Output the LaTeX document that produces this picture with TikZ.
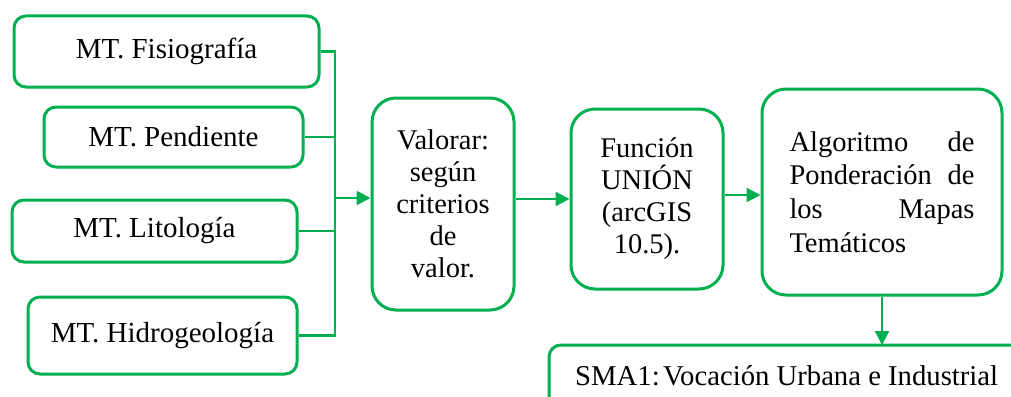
\documentclass[tikz,border=0pt]{standalone}
\usepackage{fontspec}
\setmainfont{Liberation Serif}
\usetikzlibrary{arrows.meta}
\definecolor{grn}{RGB}{0,176,80}
\begin{document}
\begin{tikzpicture}[x=1pt,y=-1pt,
  mtbox/.style={draw=grn,line width=3pt,rounded corners=12pt,inner sep=0pt,
    font=\fontsize{29}{32}\selectfont},
  bigbox/.style={draw=grn,line width=3pt,rounded corners=24pt,inner sep=0pt,
    font=\fontsize{28.5}{32}\selectfont,align=center},
  conn/.style={draw=grn,line width=2.5pt},
  arr/.style={conn,-{Triangle[length=14pt,width=14pt]}}]
\useasboundingbox (0,0) rectangle (1011,396);
\fill[white] (0,0) rectangle (1011,396);
\node[mtbox,minimum width=305pt,minimum height=71pt] (fis) at (166.5,51.5) {MT. Fisiografía};
\node[mtbox,minimum width=259pt,minimum height=60pt] (pen) at (173.5,137) {MT. Pendiente};
\node[mtbox,minimum width=285pt,minimum height=62pt] (lit) at (154.5,231) {MT. Litología};
\node[mtbox,minimum width=269pt,minimum height=77pt] (hid) at (162.5,335.5) {MT. Hidrogeología};
\node[bigbox,minimum width=142pt,minimum height=212pt] (val) at (443,204) {Valorar:\\según\\criterios\\de\\valor.};
\node[bigbox,minimum width=152pt,minimum height=180pt] (fun) at (647,199) {Función\\UNIÓN\\(arcGIS\\10.5).};
\node[bigbox,minimum width=240pt,minimum height=206pt,text width=185pt,align=left,
  font=\fontsize{28.5}{33.5}\selectfont] (alg) at (882,192)
  {Algoritmo\hfill de\\Ponderación\hfill de\\los\hfill Mapas\\Temáticos};
\coordinate (top) at (335,51.5);
\coordinate (bot) at (335,335.5);
\coordinate (bus) at (335,198);
\draw[conn] (fis.east) -- (top) -- (bot) -- (hid.east);
\draw[conn] (pen.east) -- (pen.east -| top);
\draw[conn] (lit.east) -- (lit.east -| top);
\draw[arr] (bus) -- (bus -| val.west);
\draw[arr] (val.east |- fun.west) -- (fun.west);
\draw[arr] (fun.east |- 0,195) -- (alg.west |- 0,195);
\begin{scope}
\clip (0,0) rectangle (1011,396);
\draw[draw=grn,line width=3pt,rounded corners=12pt] (549,420) -- (549,345) -- (1040,345);
\coordinate (smatop) at (882,345);
\node[anchor=base west,inner sep=0pt,font=\fontsize{28.7}{32}\selectfont] (sma) at (575,385) {SMA1:\hspace{0.12em}Vocación Urbana e Industrial};
\end{scope}
\draw[arr] (alg.south) -- (smatop);
\end{tikzpicture}
\end{document}
